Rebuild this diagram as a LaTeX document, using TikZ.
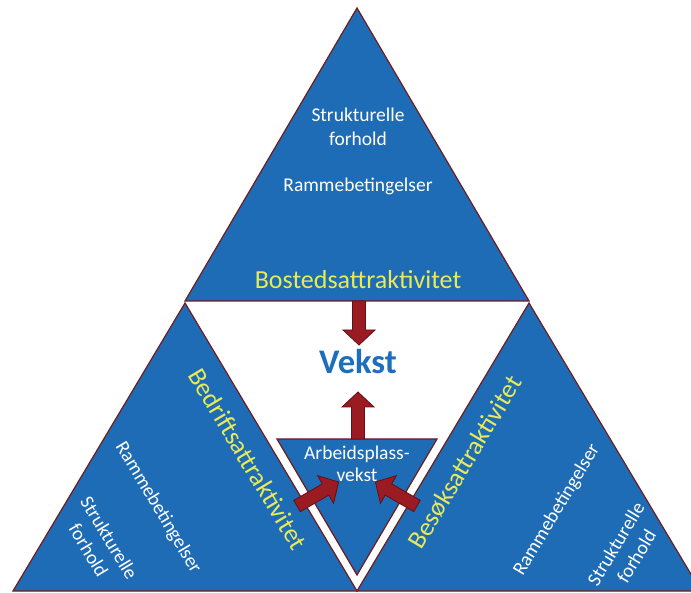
\documentclass[tikz,border=0pt]{standalone}
\usepackage{fontspec}
\setmainfont{Carlito}
\definecolor{triblue}{RGB}{31,108,182}
\definecolor{edgered}{RGB}{110,28,30}
\definecolor{arrred}{RGB}{155,27,34}
\definecolor{arrdark}{RGB}{100,15,20}
\definecolor{ylw}{RGB}{232,234,88}
\definecolor{vblue}{RGB}{30,110,190}
\newcommand\blockarrow[3]{%
  \begin{scope}[shift={#1},rotate=#2]
    \draw[barrow] (0,-6.5)--(#3-15,-6.5)--(#3-15,-16)--(#3,0)--(#3-15,16)--(#3-15,6.5)--(0,6.5)--cycle;
  \end{scope}}
\begin{document}
\begin{tikzpicture}[x=1pt,y=-1pt,
  tri/.style={fill=triblue,draw=edgered,line width=1.2pt,line join=miter},
  barrow/.style={fill=arrred,draw=arrdark,line width=0.8pt,line join=miter},
  wtext/.style={text=white,font=\fontsize{19.5}{24}\selectfont,inner sep=0pt,align=center},
  ytext/.style={text=ylw,font=\fontsize{26}{30}\selectfont,inner sep=0pt}]
\useasboundingbox (0,0) rectangle (691,593);
\fill[white] (0,0) rectangle (691,593);
\clip (0,0) rectangle (691,593);
% triangles
\coordinate (apex) at (357,8);
\coordinate (tl) at (185,301);
\coordinate (tr) at (529,301);
\coordinate (la) at (185,303);
\coordinate (ll) at (13,591);
\coordinate (lr) at (357,591);
\coordinate (ra) at (529,303);
\coordinate (rl) at (357,591);
\coordinate (rr) at (701,591);
\draw[tri] (apex) -- (tl) -- (tr) -- cycle;
\draw[tri] (la) -- (ll) -- (lr) -- cycle;
\draw[tri] (ra) -- (rl) -- (rr) -- cycle;
\coordinate (sl) at (277,439);
\coordinate (sr) at (437,439);
\coordinate (sb) at (357,575);
\draw[tri] (sl) -- (sr) -- (sb) -- cycle;
% texts top
\node[wtext,anchor=base] (s1) at (358,122) {Strukturelle};
\node[wtext,anchor=base] (f1) at (358,146) {forhold};
\node[wtext,anchor=base] (r1) at (358,192) {Rammebetingelser};
\node[ytext,anchor=base] (bo) at (358,289) {Bostedsattraktivitet};
\node[text=vblue,font=\fontsize{34.5}{38}\selectfont\bfseries,inner sep=0pt,anchor=base] (vk) at (358,374) {Vekst};
\node[wtext,anchor=base] (ab) at (357,460) {Arbeidsplass-};
\node[wtext,anchor=base] (ve) at (357,482) {vekst};
% left
\node[ytext,rotate=-59] (bd) at (248,459) {Bedriftsattraktivitet};
\node[wtext,rotate=-59] (r2) at (158,508) {Rammebetingelser};
\node[wtext,rotate=-59] (s2) at (99,544) {Strukturelle\\forhold};
% right
\node[ytext,rotate=59] (be) at (465,462) {Besøksattraktivitet};
\node[wtext,rotate=59] (r3) at (557,510) {Rammebetingelser};
\node[wtext,rotate=59] (s3) at (626,550) {Strukturelle\\forhold};
% arrows
\blockarrow{(359,301)}{-90}{44}
\blockarrow{(358,439)}{90}{47}
\blockarrow{(297,506)}{30}{48}
\blockarrow{(417,506)}{150}{48}
\end{tikzpicture}
\end{document}
